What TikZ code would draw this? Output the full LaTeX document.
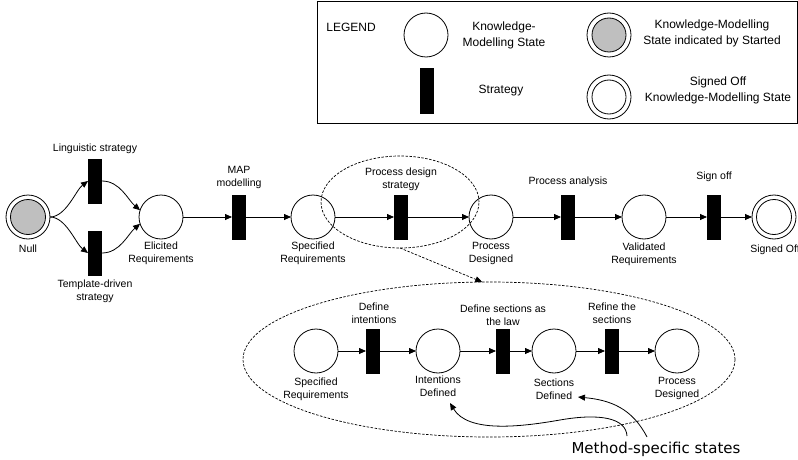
\documentclass[tikz,border=0pt]{standalone}
\usepackage{fontspec}
\setmainfont{Liberation Sans}
\newfontfamily\notefont{DejaVu Sans}
\usetikzlibrary{arrows.meta, shapes.geometric}

\begin{document}
\begin{tikzpicture}[x=1pt, y=-1pt,
  every node/.style={inner sep=0pt, outer sep=0pt},
  kmstate/.style={circle, draw, line width=0.8pt, minimum size=44pt},
  stratbar/.style={rectangle, fill=black, minimum width=14pt, minimum height=45pt},
  lbl/.style={align=center, font=\fontsize{10.5}{13}\selectfont},
  leglbl/.style={align=center, font=\fontsize{12}{16}\selectfont},
  flow/.style={line width=0.8pt, -{Triangle[length=7pt, width=6pt]}},
  dashline/.style={line width=0.7pt, dash pattern=on 2.5pt off 1.5pt},
  zoomring/.style={ellipse, draw, dashline},
  innerring/.style={line width=0.8pt},
]
\useasboundingbox (0,0) rectangle (798,460);

% ---------------- legend ----------------
\node[draw, line width=0.8pt, minimum width=480pt, minimum height=122pt] (legendbox) at (557,62) {};
\node[leglbl] (legtitle) at (351,27) {LEGEND};
\node[kmstate] (legstate) at (426,35) {};
\node[leglbl] (legstatetxt) at (504,35) {Knowledge-\\Modelling State};
\node[stratbar] (legstrat) at (427,91) {};
\node[leglbl] (legstrattxt) at (501,91) {Strategy};
\node[kmstate] (legstart) at (609,35) {};
\draw[innerring, fill=black!25] (legstart.center) circle[radius=17pt];
\node[leglbl] (legstarttxt) at (712,33.5) {Knowledge-Modelling\\State indicated by Started};
\node[kmstate] (legdone) at (609,97) {};
\draw[innerring] (legdone.center) circle[radius=17pt];
\node[leglbl] (legdonetxt) at (718,90.5) {Signed Off\\Knowledge-Modelling State};

% ---------------- main map ----------------
\node[kmstate] (null) at (28,217) {};
\draw[innerring, fill=black!25] (null.center) circle[radius=17.5pt];
\node[lbl] (nulltxt) at (28,249) {Null};

\node[stratbar] (ling) at (95,181) {};
\node[lbl] (lingtxt) at (95,149) {Linguistic strategy};
\node[stratbar] (tmpl) at (95,253) {};
\node[lbl] (tmpltxt) at (95,291.5) {Template-driven\\strategy};

\node[kmstate] (elic) at (161,217) {};
\node[lbl] (elictxt) at (161,253) {Elicited\\Requirements};

\node[stratbar] (map) at (239,217) {};
\node[lbl] (maptxt) at (239,177.5) {MAP\\modelling};

\node[kmstate] (spec) at (313,217) {};
\node[lbl] (spectxt) at (313,253) {Specified\\Requirements};

\node[stratbar] (pds) at (401,217) {};
\node[lbl] (pdstxt) at (401,179.5) {Process design\\strategy};

\node[kmstate] (pdes) at (491,217) {};
\node[lbl] (pdestxt) at (491,253) {Process\\Designed};

\node[stratbar] (pana) at (568,217) {};
\node[lbl] (panatxt) at (568,182) {Process analysis};

\node[kmstate] (valid) at (644,217) {};
\node[lbl] (validtxt) at (644,254.5) {Validated\\Requirements};

\node[stratbar] (sign) at (714,217) {};
\node[lbl] (signtxt) at (714,177) {Sign off};

\node[kmstate] (signed) at (774,217) {};
\draw[innerring] (signed.center) circle[radius=17.5pt];
\node[lbl] (signedtxt) at (775,250) {Signed Off};

% branching from the start state
\draw[flow] (null.east) .. controls (66,217) and (76,190) .. (ling.west);
\draw[flow] (null.east) .. controls (66,217) and (76,244) .. (tmpl.west);
\draw[flow] (ling.east) .. controls (120,181) and (128,200) .. (elic.162);
\draw[flow] (tmpl.east) .. controls (120,253) and (128,234) .. (elic.198);

% main chain
\draw[flow] (elic) -- (map);
\draw[flow] (map) -- (spec);
\draw[flow] (spec) -- (pds);
\draw[flow] (pds) -- (pdes);
\draw[flow] (pdes) -- (pana);
\draw[flow] (pana) -- (valid);
\draw[flow] (valid) -- (sign);
\draw[flow] (sign) -- (signed);

% ---------------- refinement of the process design strategy ----------------
\node[zoomring, minimum width=158pt, minimum height=92pt] (zsmall) at (400,202) {};
\node[zoomring, minimum width=492pt, minimum height=155pt] (zbig) at (489,359.5) {};
\draw[dashline, -{Triangle[length=7pt, width=6pt]}] (zsmall.south) -- (zbig.95);

\node[kmstate] (sspec) at (316,351) {};
\node[lbl] (sspectxt) at (316,389) {Specified\\Requirements};

\node[stratbar] (defint) at (373,351) {};
\node[lbl] (definttxt) at (374,313.5) {Define\\intentions};

\node[kmstate] (intdef) at (438,351) {};
\node[lbl] (intdeftxt) at (438,386.5) {Intentions\\Defined};

\node[stratbar] (deflaw) at (503,351) {};
\node[lbl] (deflawtxt) at (503,315) {Define sections as\\the law};

\node[kmstate] (secdef) at (554,351) {};
\node[lbl] (secdeftxt) at (554,389) {Sections\\Defined};

\node[stratbar] (refine) at (612,351) {};
\node[lbl] (refinetxt) at (612,313.5) {Refine the\\sections};

\node[kmstate] (spdes) at (677,351) {};
\node[lbl] (spdestxt) at (677,388) {Process\\Designed};

\draw[flow] (sspec) -- (defint);
\draw[flow] (defint) -- (intdef);
\draw[flow] (intdef) -- (deflaw);
\draw[flow] (deflaw) -- (secdef);
\draw[flow] (secdef) -- (refine);
\draw[flow] (refine) -- (spdes);

% ---------------- annotation ----------------
\node[font=\notefont\fontsize{15}{18}\selectfont] (note) at (656,449) {Method-specific states};
\coordinate (notea) at (627,436);
\coordinate (noteb) at (647,437);
\coordinate (intmark) at (450,403);
\coordinate (secmark) at (578,397);
\draw[flow] (notea) .. controls (626,418) and (600,413) .. (560,420)
            .. controls (520,427) and (468,433) .. (intmark);
\draw[flow] (noteb) .. controls (632,408) and (610,400) .. (secmark);

\end{tikzpicture}
\end{document}
